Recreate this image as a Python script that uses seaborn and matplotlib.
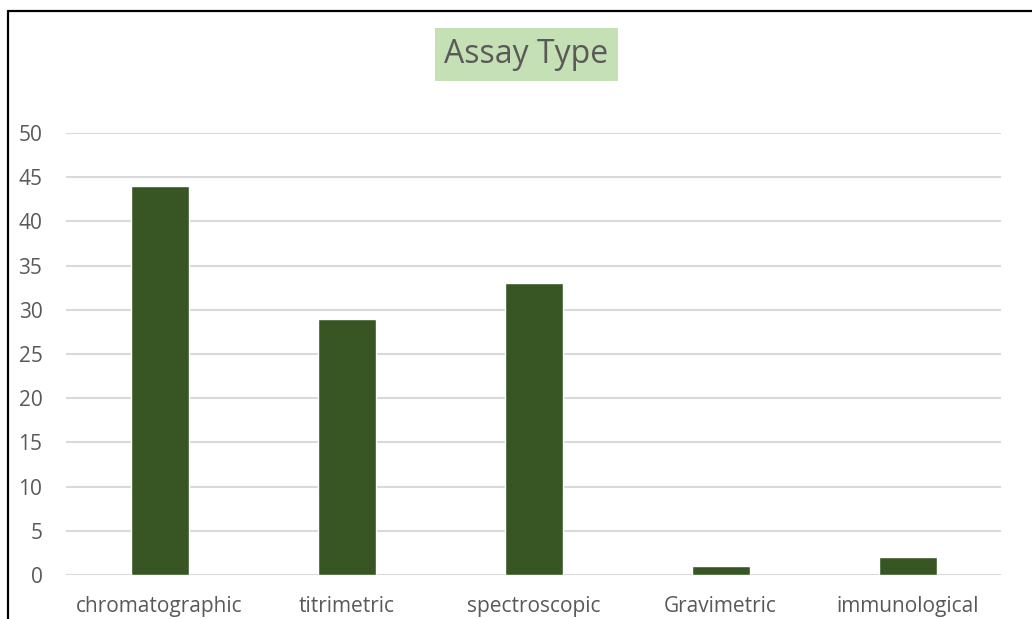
import matplotlib
matplotlib.use("Agg")
import matplotlib.pyplot as plt
from matplotlib.lines import Line2D
import seaborn as sns
import pandas as pd

categories = ["chromatographic", "titrimetric", "spectroscopic", "Gravimetric", "immunological"]
counts = [44, 29, 33, 1, 2]
y_ticks = [0, 5, 10, 15, 20, 25, 30, 35, 40, 45, 50]
title_text = "Assay Type"

sns.set_theme(style="white")
plt.rcParams["font.family"] = ["Open Sans", "DejaVu Sans"]

df = pd.DataFrame({"assay": categories, "count": counts})

fig = plt.figure(figsize=(10.32, 6.19), dpi=100)
ax = fig.add_axes([0.064, 0.0711, 0.906, 0.7139])

sns.barplot(data=df, x="assay", y="count", color="#375623", width=0.31,
            saturation=1, ax=ax, zorder=3)

ax.set_ylim(0, 50)
ax.set_yticks(y_ticks)
ax.set_xlim(-0.5, len(categories) - 0.5)
ax.yaxis.grid(True, color="#D9D9D9", linewidth=1.5, zorder=0)
ax.xaxis.grid(False)
for s in ax.spines.values():
    s.set_visible(False)
ax.set_xlabel("")
ax.set_ylabel("")
ax.tick_params(axis="both", length=0, labelsize=15, colors="#595959")
ax.tick_params(axis="y", pad=17)
ax.tick_params(axis="x", pad=15)

fig.text(0.5102, 0.912, title_text, ha="center", va="center", fontsize=23,
         color="#595959",
         bbox=dict(boxstyle="square,pad=0.3", facecolor="#C5E0B4", edgecolor="none"))

# chart frame along the top and left edges
fig.add_artist(Line2D([8 / 1032, 1.0], [1 - 11 / 619, 1 - 11 / 619],
                      transform=fig.transFigure, color="black", linewidth=1.6))
fig.add_artist(Line2D([8 / 1032, 8 / 1032], [0.0, 1 - 11 / 619],
                      transform=fig.transFigure, color="black", linewidth=1.6))

fig.savefig("out.png", dpi=100)
